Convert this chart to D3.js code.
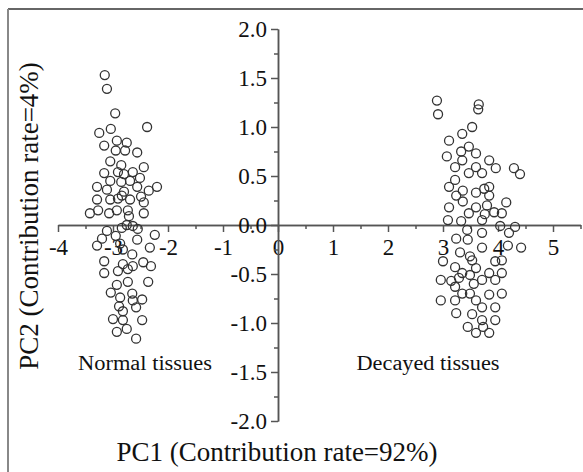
<!DOCTYPE html>
<html>
<head>
<meta charset="utf-8">
<script src="https://cdn.jsdelivr.net/npm/d3@7"></script>
<style>
  body { margin: 0; background: #fff; }
  text { font-family: "Liberation Serif", "Times New Roman", serif; fill: #111; }
</style>
</head>
<body>
<svg id="pca" width="583" height="472"></svg>
<script>
/* PC scores */
var normalX = [-3.15, -3.11, -2.96, -2.38, -3.25, -3.04, -3.16, -2.93, -2.75, -2.95,
    -2.78, -2.56, -3.05, -2.85, -2.44, -3.16, -2.91, -2.64, -2.80, -3.05,
    -2.85, -2.69, -2.51, -3.29, -3.11, -2.80, -2.56, -2.35, -2.20, -3.29,
    -3.05, -2.69, -2.44, -3.42, -3.27, -3.07, -2.93, -2.73, -2.44, -2.84,
    -2.49, -2.71, -2.91, -3.11, -2.84, -2.64, -2.55, -2.95, -2.24, -2.75,
    -3.20, -3.29, -2.87, -2.56, -2.33, -2.82, -2.65, -3.16, -2.82, -2.64,
    -2.45, -2.31, -3.16, -2.91, -2.73, -2.36, -2.93, -3.04, -2.65, -2.87,
    -2.64, -2.47, -2.89, -2.82, -2.58, -3.00, -2.82, -2.47, -2.93, -2.75,
    -2.58, -2.73];
var normalY = [1.53, 1.39, 1.14, 1.00, 0.94, 0.98, 0.81, 0.86, 0.84, 0.76,
    0.76, 0.74, 0.65, 0.61, 0.59, 0.53, 0.54, 0.54, 0.52, 0.45,
    0.44, 0.45, 0.48, 0.39, 0.36, 0.34, 0.39, 0.35, 0.39, 0.26,
    0.26, 0.26, 0.23, 0.12, 0.15, 0.12, 0.15, 0.15, 0.12, 0.30,
    0.29, 0.09, 0.27, -0.06, -0.03, -0.01, -0.04, -0.11, -0.10, 0.00,
    -0.14, -0.21, -0.19, -0.15, -0.23, -0.25, -0.30, -0.37, -0.40, -0.42,
    -0.38, -0.42, -0.49, -0.47, -0.58, -0.58, -0.61, -0.69, -0.70, -0.74,
    -0.77, -0.76, -0.83, -0.88, -0.84, -0.96, -0.97, -0.97, -1.09, -1.06,
    -1.16, -0.45];

var decayedX = [2.89, 2.91, 3.65, 3.64, 3.53, 3.35, 3.11, 3.47, 3.33, 3.60,
    3.07, 3.35, 3.84, 3.22, 3.60, 3.96, 4.29, 4.40, 3.47, 3.71,
    3.22, 3.11, 3.36, 3.60, 3.75, 3.84, 3.84, 3.24, 4.15, 3.11,
    3.36, 3.60, 3.80, 3.93, 4.07, 3.47, 3.76, 3.09, 3.33, 3.71,
    4.04, 4.31, 4.20, 3.71, 3.44, 3.24, 3.45, 3.71, 4.18, 4.42,
    3.31, 3.49, 3.00, 3.53, 3.95, 4.07, 3.22, 3.60, 3.35, 2.96,
    3.15, 3.29, 3.49, 3.84, 4.07, 3.56, 3.71, 3.95, 3.22, 3.35,
    3.49, 3.84, 4.07, 2.96, 3.22, 3.60, 3.71, 3.95, 3.24, 3.53,
    3.71, 3.95, 3.45, 3.73, 3.60, 3.84];
var decayedY = [1.27, 1.13, 1.23, 1.18, 1.00, 0.93, 0.86, 0.80, 0.75, 0.73,
    0.70, 0.66, 0.66, 0.59, 0.59, 0.58, 0.58, 0.52, 0.53, 0.53,
    0.46, 0.39, 0.35, 0.33, 0.37, 0.39, 0.30, 0.30, 0.23, 0.18,
    0.24, 0.18, 0.20, 0.13, 0.12, 0.12, 0.11, 0.05, 0.04, 0.05,
    -0.01, -0.02, -0.08, -0.08, -0.05, -0.14, -0.15, -0.23, -0.21, -0.23,
    -0.28, -0.32, -0.37, -0.36, -0.37, -0.36, -0.43, -0.44, -0.49, -0.56,
    -0.57, -0.54, -0.51, -0.49, -0.49, -0.60, -0.56, -0.56, -0.63, -0.70,
    -0.70, -0.71, -0.70, -0.77, -0.77, -0.77, -0.84, -0.84, -0.90, -0.91,
    -0.97, -0.97, -1.04, -1.04, -1.10, -1.10];

var xTicks = [-4, -3, -2, -1, 0, 1, 2, 3, 4, 5];
var xMinor = [-3.5, -2.5, -1.5, -0.5, 0.5, 1.5, 2.5, 3.5, 4.5, 5.5];
var yTicks = [-2.0, -1.5, -1.0, -0.5, 0.0, 0.5, 1.0, 1.5, 2.0];
var yMinor = [-1.75, -1.25, -0.75, -0.25, 0.25, 0.75, 1.25, 1.75];

var groupNames = ["Normal tissues", "Decayed tissues"];
var xTitle = "PC1 (Contribution rate=92%)";
var yTitle = "PC2 (Contribution rate=4%)";

function pcaChart() {
    var svg = d3.select("#pca");
    var axisColor = "#555";

    var x = d3.scaleLinear().domain([-4, 5.5]).range([58, 580.5]);
    var y = d3.scaleLinear().domain([-2, 2]).range([421, 29]);

    svg.append("rect").attr("width", 583).attr("height", 472).attr("fill", "#fff");

    /* frame: only top and left edges show */
    svg.append("line")
        .attr("x1", 8).attr("y1", 9).attr("x2", 583).attr("y2", 9)
        .attr("stroke", "#333").attr("stroke-width", 1.5);
    svg.append("line")
        .attr("x1", 8).attr("y1", 9).attr("x2", 8).attr("y2", 472)
        .attr("stroke", "#888").attr("stroke-width", 2);

    /* axes cross at (0,0) */
    var gx = svg.append("g")
        .attr("transform", "translate(0," + y(0) + ")")
        .call(d3.axisBottom(x).tickValues(xTicks).tickSize(7).tickSizeOuter(0)
            .tickFormat(d => String(d)));
    svg.append("g")
        .attr("transform", "translate(0," + y(0) + ")")
        .call(d3.axisBottom(x).tickValues(xMinor).tickSize(4).tickSizeOuter(0)
            .tickFormat(""));

    var gy = svg.append("g")
        .attr("transform", "translate(" + x(0) + ",0)")
        .call(d3.axisLeft(y).tickValues(yTicks).tickSize(7).tickSizeOuter(0).tickPadding(4)
            .tickFormat(d => d.toFixed(1)));
    svg.append("g")
        .attr("transform", "translate(" + x(0) + ",0)")
        .call(d3.axisLeft(y).tickValues(yMinor).tickSize(4).tickSizeOuter(0)
            .tickFormat(""));

    svg.selectAll(".domain, .tick line")
        .attr("stroke", axisColor)
        .attr("stroke-width", 1.5);

    gx.selectAll("text")
        .attr("y", 14)
        .style("font-size", "23px")
        .attr("fill", "#111");
    gy.selectAll("text")
        .style("font-size", "23px")
        .attr("fill", "#111");

    /* the two groups of scores */
    var normal = normalX.map((v, i) => ({x: v, y: normalY[i]}));
    var decayed = decayedX.map((v, i) => ({x: v, y: decayedY[i]}));

    svg.selectAll("circle.pt")
        .data(normal.concat(decayed))
        .join("circle")
        .attr("class", "pt")
        .attr("cx", d => x(d.x))
        .attr("cy", d => y(d.y))
        .attr("r", 4.5)
        .attr("fill", "none")
        .attr("stroke", "#333")
        .attr("stroke-width", 1.3);

    /* group labels */
    svg.append("text")
        .attr("x", 145).attr("y", 370)
        .attr("text-anchor", "middle")
        .attr("textLength", 134).attr("lengthAdjust", "spacingAndGlyphs")
        .style("font-size", "20px")
        .text(groupNames[0]);
    svg.append("text")
        .attr("x", 428).attr("y", 370)
        .attr("text-anchor", "middle")
        .attr("textLength", 143).attr("lengthAdjust", "spacingAndGlyphs")
        .style("font-size", "20px")
        .text(groupNames[1]);

    /* axis titles */
    svg.append("text")
        .attr("x", 277).attr("y", 461)
        .attr("text-anchor", "middle")
        .style("font-size", "27px")
        .text(xTitle);
    svg.append("text")
        .attr("transform", "translate(38,216) rotate(-90)")
        .attr("text-anchor", "middle")
        .style("font-size", "27px")
        .text(yTitle);

    return svg;
}
pcaChart();
</script>
</body>
</html>
